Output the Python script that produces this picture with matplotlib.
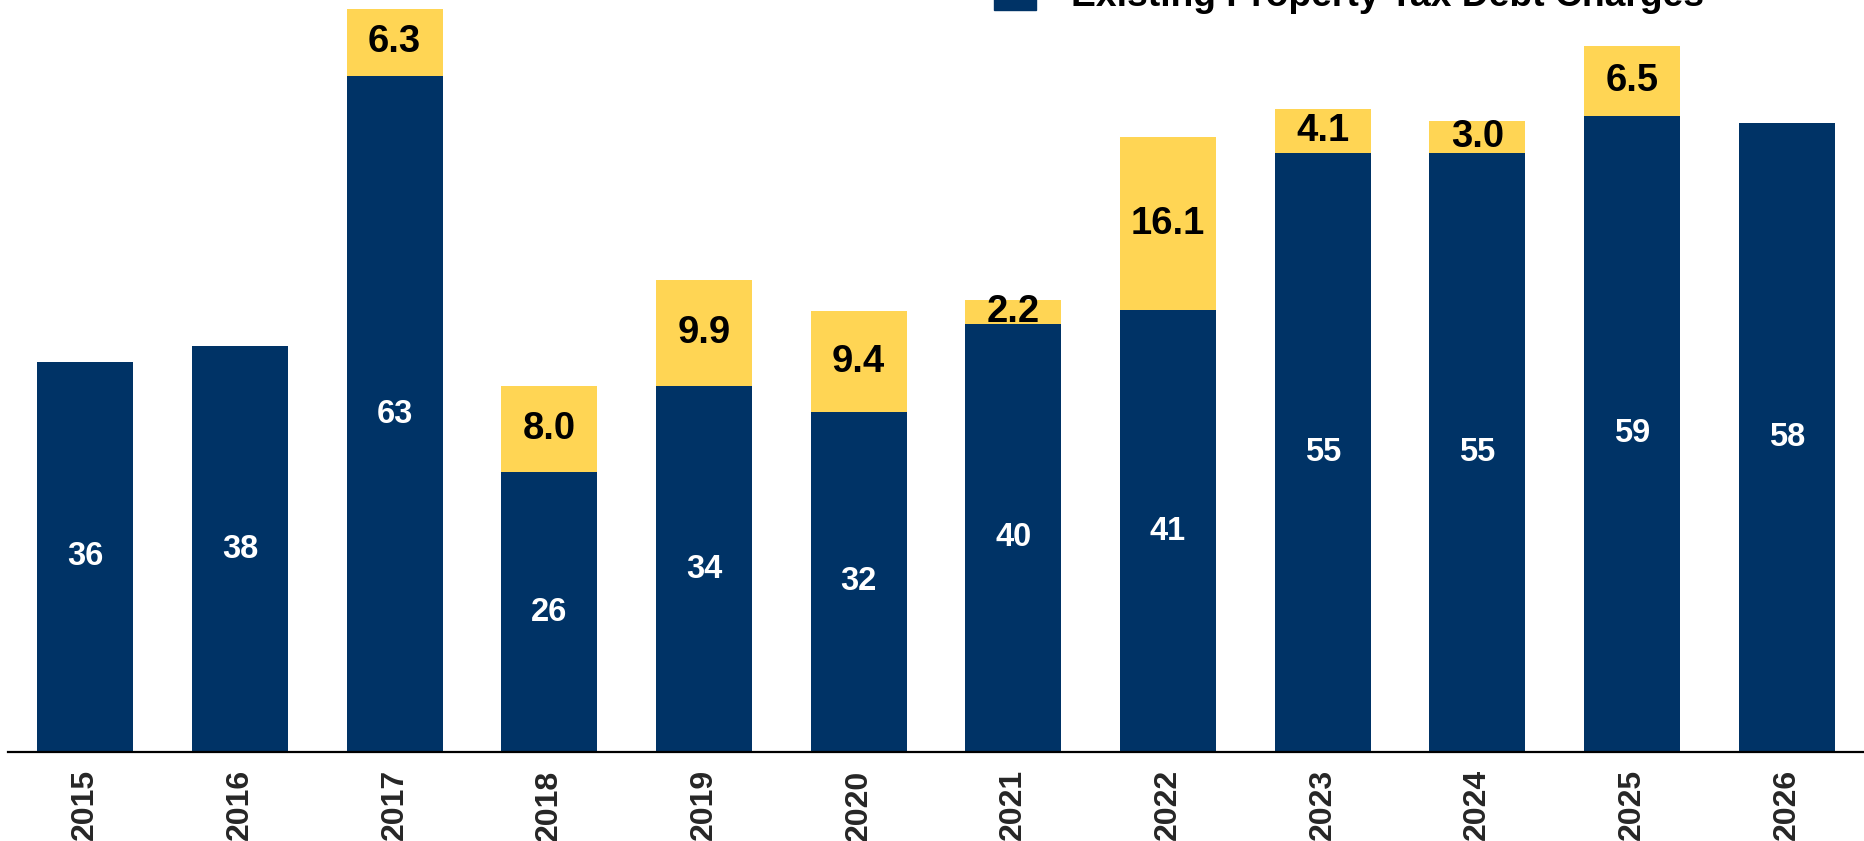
import matplotlib.pyplot as plt
from matplotlib.patches import Rectangle

plt.rcParams['font.family'] = ['Liberation Sans', 'DejaVu Sans']

# === data ===
years = ['2015', '2016', '2017', '2018', '2019', '2020',
         '2021', '2022', '2023', '2024', '2025', '2026']
existing = [36.4, 37.8, 63.0, 26.1, 34.1, 31.7, 39.9, 41.2, 55.8, 55.8, 59.3, 58.6]
existing_lbl = ['36', '38', '63', '26', '34', '32', '40', '41', '55', '55', '59', '58']
new_debt = [0, 0, 6.3, 8.0, 9.9, 9.4, 2.2, 16.1, 4.1, 3.0, 6.5, 0]

NAVY = '#003366'
GOLD = '#FFD554'

W, H = 1864, 841
fig = plt.figure(figsize=(W / 100, H / 100), dpi=100)
ax = fig.add_axes([8 / W, (H - 752) / H, 1 - 8 / W, 752 / H])

x = list(range(len(years)))
ax.bar(x, existing, width=0.62, color=NAVY, zorder=2)
ax.bar(x, new_debt, width=0.62, bottom=existing, color=GOLD, zorder=2)

for i in x:
    ax.text(i, existing[i] / 2, existing_lbl[i], ha='center', va='center',
            color='white', fontsize=23.5, fontweight='bold', zorder=3)
    if new_debt[i] > 0:
        ax.text(i, existing[i] + new_debt[i] / 2, f'{new_debt[i]:.1f}',
                ha='center', va='center', color='black', fontsize=27.5,
                fontweight='bold', zorder=3)

ax.set_xlim(-0.5, 11.5)
ax.set_ylim(0, 70.1)
ax.set_xticks(x)
ax.set_xticklabels(years, rotation=90, fontsize=23, fontweight='bold', color='#262626')
ax.tick_params(axis='x', length=0, pad=12.5)
ax.set_yticks([])
for s in ['top', 'right', 'left']:
    ax.spines[s].set_visible(False)
ax.spines['bottom'].set_linewidth(1.6)
ax.spines['bottom'].set_color('black')

# legend (partly cut off at the top of the picture)
fig.patches.append(Rectangle((994 / W, 1 - 10 / H), 42 / W, 40 / H,
                             transform=fig.transFigure, color=NAVY))
fig.text(1071 / W, 1 - 6 / H, 'Existing Property Tax Debt Charges',
         fontsize=26.8, fontweight='bold', color='black', va='baseline', ha='left')

fig.savefig('out.png', dpi=100)
